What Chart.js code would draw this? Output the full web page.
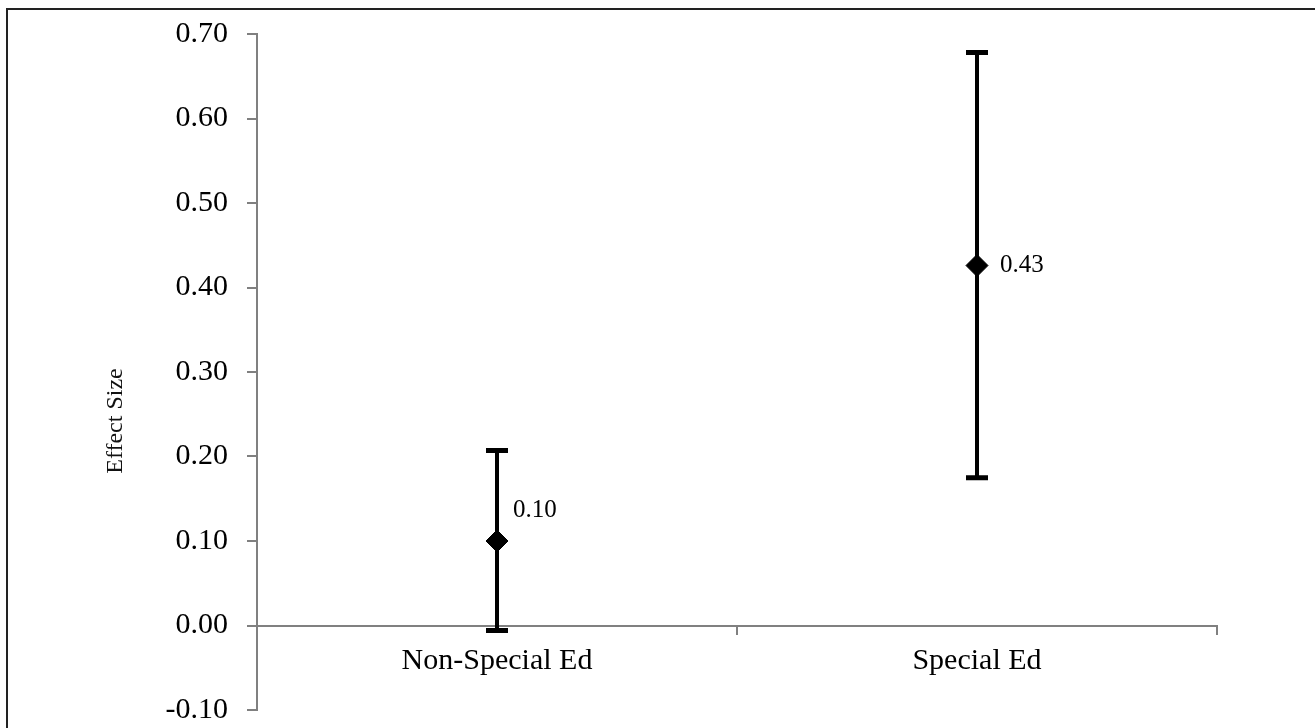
<!DOCTYPE html>
<html>
<head>
<meta charset="utf-8">
<script src="https://cdn.jsdelivr.net/npm/chart.js@4"></script>
<style>
  body { margin: 0; background: #fff; }
  canvas { display: block; }
</style>
</head>
<body>
<canvas id="myChart" width="1315" height="728"></canvas>
<script>
const categories = ['Non-Special Ed', 'Special Ed'];
const effectSizes = [0.10, 0.426];
const lowerCI = [-0.006, 0.175];
const upperCI = [0.207, 0.678];
const yTicks = [-0.10, 0.00, 0.10, 0.20, 0.30, 0.40, 0.50, 0.60, 0.70];

const serif = 'Liberation Serif';
const axisGray = '#808080';

// error bars + value labels + frame, all drawn from the scales
const errorBars = {
    id: 'errorBars',
    beforeDraw(chart) {
        const c = chart.ctx;
        c.save();
        c.strokeStyle = '#222';
        c.lineWidth = 2;
        c.beginPath();
        c.moveTo(7, chart.height);
        c.lineTo(7, 9);
        c.lineTo(chart.width, 9);
        c.stroke();
        c.restore();
    },
    beforeDatasetsDraw(chart) {
        const c = chart.ctx;
        const x = chart.scales.x, y = chart.scales.y;
        c.save();
        c.strokeStyle = '#000';
        categories.forEach((cat, i) => {
            const px = x.getPixelForValue(i);
            const top = y.getPixelForValue(upperCI[i]);
            const bot = y.getPixelForValue(lowerCI[i]);
            c.lineWidth = 4;
            c.beginPath();
            c.moveTo(px, top);
            c.lineTo(px, bot);
            c.stroke();
            c.lineWidth = 5;
            c.beginPath();
            c.moveTo(px - 11, top);
            c.lineTo(px + 11, top);
            c.moveTo(px - 11, bot);
            c.lineTo(px + 11, bot);
            c.stroke();
        });
        c.restore();
    },
    afterDatasetsDraw(chart) {
        const c = chart.ctx;
        const x = chart.scales.x, y = chart.scales.y;
        const offs = [[16, -31], [23, 0]];
        c.save();
        c.fillStyle = '#000';
        c.font = '25px "' + serif + '"';
        c.textAlign = 'left';
        c.textBaseline = 'middle';
        effectSizes.forEach((v, i) => {
            c.fillText(v.toFixed(2), x.getPixelForValue(i) + offs[i][0], y.getPixelForValue(v) + offs[i][1]);
        });
        // axis title, sits a bit below the middle of the axis
        c.translate(116, (y.top + y.bottom) / 2 + 49);
        c.rotate(-Math.PI / 2);
        c.textAlign = 'center';
        c.font = '24px "' + serif + '"';
        c.fillStyle = '#111';
        c.fillText('Effect Size', 0, 0);
        c.restore();
    }
};

const ctx = document.getElementById('myChart').getContext('2d');
const myChart = new Chart(ctx, {
    type: 'line',
    data: {
        labels: categories,
        datasets: [{
            data: effectSizes,
            showLine: false,
            pointStyle: 'rectRot',
            pointRadius: 11,
            pointBorderWidth: 1,
            pointBackgroundColor: '#000',
            pointBorderColor: '#000'
        }]
    },
    options: {
        responsive: false,
        animation: false,
        layout: { padding: { left: 98, right: 98, top: 34, bottom: 18 } },
        plugins: {
            legend: { display: false },
            tooltip: { enabled: false }
        },
        scales: {
            x: {
                type: 'category',
                offset: true,
                position: { y: 0 },
                afterFit(scale) {
                    scale.paddingLeft = scale.paddingRight = 0;
                    scale.paddingTop = scale.paddingBottom = 0;
                },
                grid: {
                    offset: true,
                    drawOnChartArea: false,
                    tickLength: 8,
                    tickWidth: 2,
                    color: axisGray,
                    lineWidth: 2
                },
                border: { color: axisGray, width: 2 },
                ticks: {
                    color: '#000',
                    padding: 10,
                    font: { family: serif, size: 30 }
                }
            },
            y: {
                min: -0.1,
                max: 0.7,
                afterFit(scale) {
                    scale.width = 257 - 98;
                    scale.paddingTop = scale.paddingBottom = 0;
                },
                afterBuildTicks(scale) { scale.ticks = yTicks.map(v => ({ value: v })); },
                grid: {
                    drawOnChartArea: false,
                    tickLength: 10,
                    color: axisGray,
                    lineWidth: 2
                },
                border: { color: axisGray, width: 2 },
                ticks: {
                    color: '#000',
                    padding: 19,
                    font: { family: serif, size: 30 },
                    callback: v => v.toFixed(2)
                }
            }
        }
    },
    plugins: [errorBars]
});
</script>
</body>
</html>
